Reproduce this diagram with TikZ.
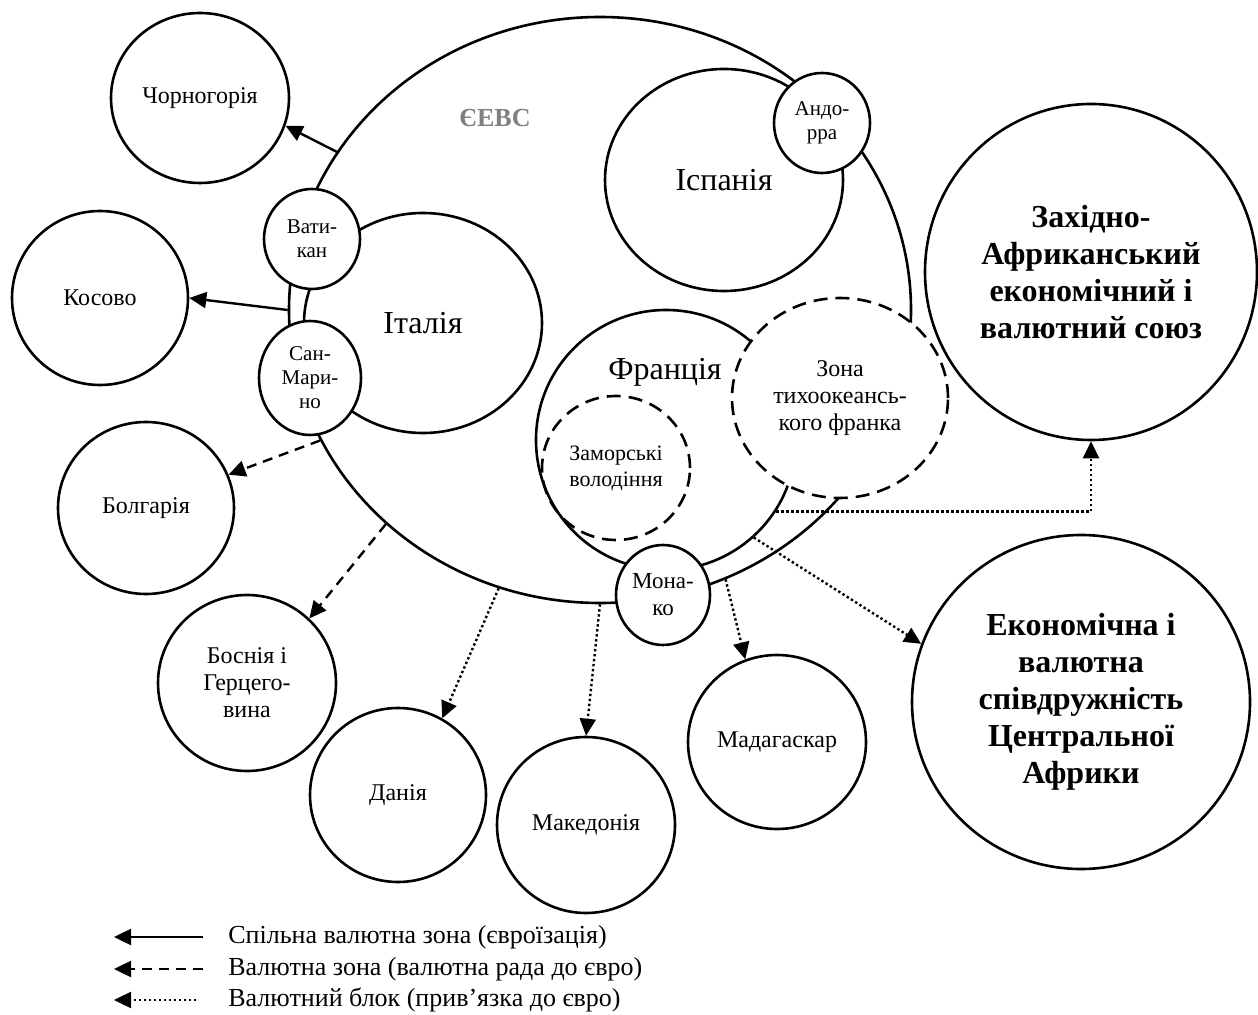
\documentclass[tikz,border=0pt]{standalone}
\usepackage{fontspec}
\setmainfont{Liberation Serif}
\usepackage{tikz}
\usetikzlibrary{arrows.meta,shapes.geometric}
\usepackage{xcolor}
\definecolor{evsgray}{RGB}{128,128,128}
\tikzstyle{land} = [ellipse, draw, fill=white, line width=1.3pt, inner sep=0pt, align=center, font=\fontsize{12}{13.5}\selectfont]
\tikzstyle{bigland} = [land, font=\fontsize{16}{19}\selectfont]
\tikzstyle{tinyland} = [land, font=\fontsize{10.5}{12}\selectfont]
\tikzstyle{union} = [land, font=\bfseries\fontsize{16}{18.5}\selectfont]
\tikzstyle{zone} = [land, dash pattern=on 7pt off 4pt]
\tikzstyle{legend} = [anchor=west, inner sep=0pt, font=\fontsize{13}{15}\selectfont]
\tikzstyle{eurozone} = [line width=1.2pt, -{Triangle[length=8.5pt,width=8pt]}]
\tikzstyle{euroboard} = [eurozone, dash pattern=on 5pt off 3.5pt]
\tikzstyle{europeg} = [eurozone, dash pattern=on 1.2pt off 1.3pt]

\begin{document}
\begin{tikzpicture}[x=0.5pt, y=-0.5pt]
\useasboundingbox (0,0) rectangle (1258,1015);

% Countries outside the union
\node (mont) [land, minimum width=89pt, minimum height=85pt] at (200,98) {Чорногорія};
\node (kos) [land, minimum width=88pt, minimum height=87pt] at (100,298) {Косово};
\node (bul) [land, minimum width=88pt, minimum height=86pt] at (146,508) {Болгарія};
\node (bos) [land, minimum width=89pt, minimum height=88pt] at (247,683) {Боснія і\\Герцего-\\вина};
\node (dan) [land, minimum width=88pt, minimum height=87pt] at (398,795) {Данія};
\node (mak) [land, minimum width=89pt, minimum height=88pt] at (586,825) {Македонія};
\node (mad) [land, minimum width=89pt, minimum height=87pt] at (777,742) {Мадагаскар};
\node (wa) [union, minimum width=166pt, minimum height=168pt] at (1091,272) {Західно-\\Африканський\\економічний і\\валютний союз};
\node (eco) [union, minimum width=169pt, minimum height=167pt] at (1081,702) {Економічна і\\валютна\\співдружність\\Центральної\\Африки};

% Euro area
\node (evs) [land, minimum width=311pt, minimum height=293pt] at (600,310) {};
\node (evslbl) [font=\bfseries\fontsize{13}{15}\selectfont, text=evsgray] at (495,118) {ЄЕВС};
\node (ita) [bigland, minimum width=119pt, minimum height=110pt] at (423,323) {Італія};
\node (vat) [tinyland, minimum width=48pt, minimum height=50pt] at (312,239) {Вати-\\кан};
\node (smr) [tinyland, minimum width=51pt, minimum height=57pt] at (310,378) {Сан-\\Мари-\\но};
\node (esp) [bigland, minimum width=119pt, minimum height=111pt] at (724,180) {Іспанія};
\node (andr) [tinyland, minimum width=48pt, minimum height=50pt] at (822,123) {Андо-\\рра};
\node (fra) [bigland, minimum size=130pt] at (666,440) {};
\node (fralbl) [font=\fontsize{16}{19}\selectfont] at (665,372) {Франція};
\node (ovs) [zone, fill=none, font=\fontsize{11}{13}\selectfont, minimum width=74pt, minimum height=72pt] at (616,468) {Заморські\\володіння};
\node (cfp) [zone, minimum width=108pt, minimum height=100pt] at (840,398) {Зона\\тихоокеансь-\\кого франка};
\node (mon) [land, font=\fontsize{11.5}{13.5}\selectfont, minimum width=47pt, minimum height=50pt] at (663,595) {Мона-\\ко};

% Links
\draw[eurozone] (evs.149.5) -- (mont.-18);
\draw[eurozone] (evs.180) -- (kos.0);
\draw[euroboard] (evs.205) -- (bul.22);
\draw[euroboard] (evs.225) -- (bos.46);
\draw[europeg] (evs.250) -- (dan.60);
\draw[europeg] (evs.270) -- (mak.90);
\draw[europeg] (evs.-65) -- (mad.111);
\draw[europeg] (fra.-48) -- (eco.160);
\draw[europeg] (fra.-33) -| (wa.south);

% Legend
\coordinate (z1) at (203,937); \coordinate (z0) at (114,937);
\coordinate (b1) at (203,969); \coordinate (b0) at (114,969);
\coordinate (p1) at (196,1000); \coordinate (p0) at (114,1000);
\draw[eurozone] (z1) -- (z0);
\draw[euroboard] (b1) -- (b0);
\draw[europeg] (p1) -- (p0);
\node (lz) [legend] at (228,937) {Спільна валютна зона (євроїзація)};
\node (lb) [legend] at (228,969) {Валютна зона (валютна рада до євро)};
\node (lp) [legend] at (228,1000) {Валютний блок (прив’язка до євро)};
\end{tikzpicture}
\end{document}
